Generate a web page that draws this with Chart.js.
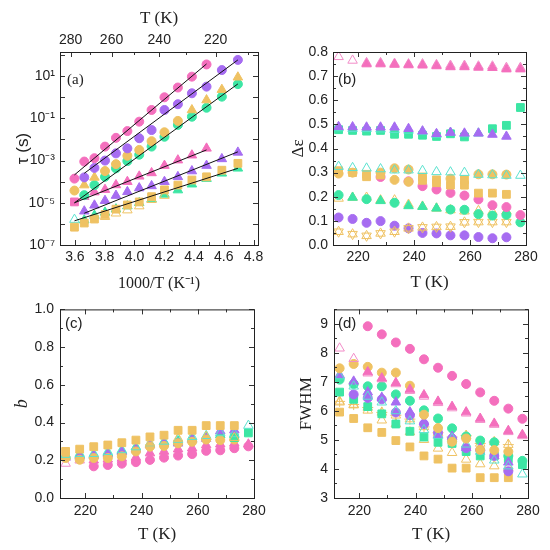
<!DOCTYPE html>
<html>
<head>
<meta charset="utf-8">
<script src="https://cdn.jsdelivr.net/npm/chart.js@4.4.1/dist/chart.umd.min.js"></script>
<style>
  body { margin: 0; background: #fff; }
  #fig { position: relative; width: 550px; height: 550px; background: #fff; }
  .panel { position: absolute; }
</style>
</head>
<body>
<div id="fig">
  <div class="panel" style="left:0;top:0;width:275px;height:295px"><canvas id="chartA"></canvas></div>
  <div class="panel" style="left:275px;top:0;width:275px;height:295px"><canvas id="chartB"></canvas></div>
  <div class="panel" style="left:0;top:295px;width:275px;height:255px"><canvas id="chartC"></canvas></div>
  <div class="panel" style="left:275px;top:295px;width:275px;height:255px"><canvas id="chartD"></canvas></div>
</div>
<script>
// Temperatures of the measurements (K)
const temps = [213, 218, 223, 228, 233, 238, 243, 248, 253, 258, 263, 268, 273, 278];

// Tick values
const invTicks = [3.6, 3.8, 4.0, 4.2, 4.4, 4.6, 4.8];
const topTempTicks = [280, 260, 240, 220];
const topTempMinor = [270, 250, 230, 210];
const tauTicks = [1e-7, 1e-5, 1e-3, 1e-1, 1e1];
const tempTicks = [220, 240, 260, 280];
const epsTicks = [0, 0.1, 0.2, 0.3, 0.4, 0.5, 0.6, 0.7, 0.8];
const bTicks = [0, 0.2, 0.4, 0.6, 0.8, 1.0];
const fwhmTicks = [3, 4, 5, 6, 7, 8, 9];

// (a) relaxation times tau (s)
const tauPinkCirc = [null, null, 36, 9.5, 2.9, 1.0, 0.25, 0.07, 0.025, 0.012, 4.6e-3, 1.3e-3, 9e-4, 1.4e-4];
const tauPurpleCirc = [59, 19.5, 3.2, 1.55, 0.47, 0.25, 0.028, 0.0115, 3.8e-3, 2.2e-3, 1e-3, 4.5e-4, 1.6e-4, null];
const tauOrangeCirc = [null, null, null, null, 0.076, 0.022, 8.3e-3, 3.2e-3, 1.7e-3, 6.8e-4, 3.2e-4, null, null, 3.8e-5];
const tauOrangeTri = [8.9, 2.3, 0.74, 0.25, null, null, null, null, null, null, null, 1.6e-4, 6.9e-5, null];
const tauGreenCirc = [4.2, 1.07, 0.32, 0.12, 0.049, 0.0135, 4.6e-3, 1.9e-3, 9.5e-4, 4.3e-4, 1.7e-4, 6.9e-5, 2.3e-5, null];
const tauPinkTri = [null, null, 3.8e-3, 1.8e-3, 1.05e-3, 5.8e-4, 2.6e-4, 1.8e-4, 1e-4, 7e-5, 4.2e-5, 3.2e-5, 1.95e-5, null];
const tauPinkSq = [null, null, null, null, null, null, null, null, null, null, null, null, null, 1.1e-5];
const tauPurpleTri = [2.45e-3, 1.2e-3, 5.8e-4, 3.2e-4, 1.7e-4, 1e-4, 6.3e-5, 5e-5, 3.3e-5, 2.2e-5, 1.26e-5, 7.6e-6, 4e-6, null];
const tauOrangeSq = [7.4e-4, 3.5e-4, 1.7e-4, 1.2e-4, 6.9e-5, 4.1e-5, 1.95e-5, 1.1e-5, 7.9e-6, 5e-6, 2.8e-6, 1.7e-6, 1.1e-6, 7e-7];
const tauGreenTri = [4.3e-4, 2.5e-4, 1.4e-4, 7.6e-5, 4e-5, 2.5e-5, 1.5e-5, 1e-5, 7e-6, 5e-6, 3.5e-6, 2.5e-6, 1.5e-6, null];
const tauCyanOpen = [null, null, null, null, null, null, null, null, null, null, null, null, null, 1.6e-6];
const tauOrangeOpen = [null, null, null, null, null, 2.2e-5, 1.4e-5, 7e-6, 4.5e-6, 3.2e-6, 2.2e-6, null, null, null];
// Arrhenius fits: end temperatures and end values
const fitTemps = [[278, 223], [273, 213], [278, 213], [278, 223], [273, 213], [278, 213]];
const fitTaus = [[2.1e-4, 38], [2.5e-4, 59], [1.0e-5, 4.3], [1.0e-5, 3.2e-3], [3.2e-6, 2.6e-3], [1.4e-6, 4.3e-4]];

// (b) relaxation strength
const epsPinkOpen = [0.78, 0.765, 0.755, 0.755, 0.752, 0.75, 0.75, 0.747, 0.744, 0.744, 0.741, 0.741, 0.735, 0.735];
const epsPinkTri = [null, null, 0.75, 0.75, 0.748, 0.746, 0.745, 0.742, 0.738, 0.738, 0.736, 0.735, 0.729, 0.729];
const epsPurpleTri = [0.49, 0.489, 0.488, 0.488, 0.488, 0.482, 0.472, 0.461, 0.466, 0.463, 0.463, 0.458, 0.45, null];
const epsCyanOpenHi = [0.485, 0.482, 0.482, 0.48, 0.478, 0.475, 0.47, 0.458, 0.466, 0.46, 0.463, null, null, null];
const epsGreenSq = [0.478, 0.475, 0.472, 0.475, 0.459, 0.459, 0.455, 0.45, 0.461, 0.448, null, 0.482, 0.496, 0.57];
const epsCyanOpenLo = [0.325, 0.32, 0.318, 0.315, 0.31, 0.31, 0.308, 0.303, 0.302, 0.3, 0.292, 0.29, 0.288, 0.288];
const orangeCircTempsB = [213, 218, 228, 233, 233, 238, 238, 253, 263, 268, 273];
const epsOrangeCirc = [0.296, 0.3, 0.3, 0.318, 0.27, 0.313, 0.262, 0.275, 0.293, 0.293, 0.292];
const orangeSqTempsB = [213, 218, 223, 223, 228, 243, 243, 248, 248, 253, 258, 258, 263, 268, 273];
const epsOrangeSq = [0.308, 0.3, 0.293, 0.283, 0.29, 0.282, 0.268, 0.27, 0.258, 0.248, 0.27, 0.248, 0.215, 0.215, 0.21];
const epsPinkCirc = [null, null, null, 0.282, null, 0.264, 0.244, 0.23, 0.216, 0.205, 0.189, 0.165, 0.157, 0.124];
const epsGreenCirc = [0.207, null, 0.19, null, 0.175, null, null, null, 0.147, 0.146, 0.128, 0.122, 0.125, 0.094];
const epsGreenTri = [null, 0.197, null, 0.183, null, 0.162, 0.159, 0.152, null, null, null, null, null, null];
const epsOrangeOpen = [0.193, 0.197, 0.197, 0.186, 0.186, 0.168, 0.16, 0.152, 0.145, 0.14, 0.142, 0.138, 0.14, null];
const epsOrangeStar = [0.055, 0.045, 0.038, 0.048, 0.055, 0.069, 0.073, 0.075, 0.076, 0.094, 0.095, 0.095, 0.095, null];
const epsPurpleCirc = [0.114, 0.108, 0.092, 0.099, 0.08, 0.069, 0.05, 0.048, 0.04, 0.04, 0.033, 0.028, 0.032, null];

// (c) stretching parameter b
const bOrangeSq = [0.247, 0.259, 0.272, 0.281, 0.293, 0.307, 0.324, 0.333, 0.359, 0.359, 0.384, 0.384, 0.384, null];
const bPinkCirc = [null, null, 0.168, 0.175, 0.182, 0.19, 0.202, 0.214, 0.225, 0.233, 0.25, 0.253, 0.264, 0.274];
const bPinkTri = [null, null, 0.2, 0.205, 0.21, 0.215, 0.238, 0.247, 0.259, 0.264, 0.281, 0.285, 0.29, 0.285];
const bPinkOpen = [0.183, 0.2, null, null, null, null, null, null, null, null, null, null, null, null];
const bGreenTri = [0.222, 0.229, 0.229, 0.238, 0.25, 0.269, 0.285, 0.298, 0.3, 0.315, 0.325, 0.335, 0.335, null];
const bPurpleTri = [0.215, 0.222, 0.225, 0.232, 0.245, 0.258, 0.281, 0.29, 0.29, 0.31, 0.315, 0.355, 0.36, null];
const bCyanOpen = [0.23, 0.235, 0.235, 0.245, 0.255, 0.27, 0.29, 0.3, 0.31, 0.325, 0.33, 0.345, 0.34, 0.384];
const bOrangeCirc = [0.212, 0.203, 0.212, 0.212, 0.221, 0.247, 0.272, 0.276, 0.29, 0.298, 0.31, 0.307, 0.31, null];
const bOrangeOpen = [null, null, null, null, null, null, 0.29, null, 0.316, null, 0.325, null, 0.32, null];
const bGreenSq = [null, null, null, null, null, null, null, null, null, null, null, null, 0.32, 0.345];

// (d) FWHM
const fwPinkCirc = [null, null, 8.92, 8.64, 8.36, 8.14, 7.78, 7.49, 7.21, 6.93, 6.64, 6.35, 6.08, 5.73];
const fwPinkOpen = [8.16, 7.8, 7.3, 7.1, 6.93, 6.7, 6.5, 6.28, 6.1, 5.92, 5.7, 5.53, 5.28, 5.14];
const fwPinkTri = [null, null, 7.34, 7.13, 6.97, 6.74, 6.55, 6.33, 6.15, 5.96, 5.74, 5.57, 5.32, 5.18];
const fwOrangeCirc = [7.47, 7.62, 7.52, 7.32, 7.32, 6.87, 5.87, 5.41, 4.94, 5.05, 4.66, 4.65, 4.6, null];
const fwPurpleTri = [7.24, 7.02, 6.65, 6.46, 6.3, 5.96, 5.62, 5.18, 5.12, 4.73, 4.73, 4.45, 4.23, null];
const fwPurpleCirc = [null, 6.57, 6.45, 6.4, 5.95, 5.85, 5.55, 5.25, 5.05, 4.72, 4.65, 4.45, 3.92, null];
const fwGreenCirc = [7.08, 6.93, 6.85, 6.85, 6.57, 6.35, 6.02, 5.74, 5.4, 5.12, 4.98, 4.92, 4.45, 4.28];
const fwGreenSq = [6.65, 6.4, 6.15, 5.9, 5.55, 5.3, 5.1, 4.92, 4.88, 4.6, 4.45, 4.45, 4.35, 4.15];
const fwCyanOpen = [7.2, 6.85, 6.5, 6.3, 6.0, 5.65, 5.35, 5.15, 5.05, 4.85, 4.6, 4.3, 4.1, 3.82];
const fwOrangeOpen = [6.3, 6.2, 6.02, 5.68, 5.55, 5.27, 5.01, 4.71, 4.56, 4.33, 4.17, 4.1, 4.05, null];
const fwOrangeCross = [6.33, 6.22, 6.12, 5.95, 5.85, 5.72, 5.45, 5.25, 5.1, 5.15, 4.88, 4.93, 4.84, null];
const fwOrangeSq = [5.96, 5.74, 5.42, 5.26, 4.98, 4.76, 4.45, 4.34, 4.03, 4.03, 3.7, 3.7, 3.7, null];

const PINK = '#f46fbd';
const PINK_LIGHT = '#f28cc8';
const PURPLE = '#a66cf1';
const ORANGE = '#efc263';
const GREEN = '#3ce6a4';
const CYAN = '#5ae2cf';

const SANS = "'Liberation Sans', Arial, sans-serif";
const SERIF = "'Liberation Serif', 'Times New Roman', serif";

const supDigits = { '-': '\u207B', '0': '\u2070', '1': '\u00B9', '2': '\u00B2', '3': '\u00B3',
    '4': '\u2074', '5': '\u2075', '6': '\u2076', '7': '\u2077', '8': '\u2078', '9': '\u2079' };

// Build a scatter dataset from x values and y values (nulls skipped)
function series(xs, ys, style) {
    const data = [];
    xs.forEach((x, i) => {
        if (ys[i] !== null && ys[i] !== undefined) data.push({ x: x, y: ys[i] });
    });
    return Object.assign({ data: data, showLine: false }, style);
}

// Marker style
function mk(shape, color, open, rot) {
    const r = shape === 'circle' ? 4.5 : 5.5;
    return {
        pointStyle: shape,
        pointRadius: r,
        pointHoverRadius: r,
        pointRotation: rot || 0,
        pointBackgroundColor: open ? 'rgba(0,0,0,0)' : color,
        pointBorderColor: color,
        pointBorderWidth: 1
    };
}

// Minor ticks halfway between major ones
function midTicks(major, min, max) {
    const step = major[1] - major[0];
    const res = [];
    for (let v = major[0] - step / 2; v <= max + 1e-9; v += step) {
        if (v >= min - 1e-9) res.push(v);
    }
    return res;
}

// Box, inward ticks and the panel letter
const framePlugin = {
    id: 'frame',
    afterDatasetsDraw(chart, args, o) {
        const { ctx, chartArea: a } = chart;
        const sx = chart.scales.x;
        const sy = chart.scales.y;
        ctx.save();
        ctx.strokeStyle = '#333';
        ctx.lineWidth = 1;
        ctx.beginPath();
        const xTick = (v, len, bottom, top) => {
            const px = Math.round(sx.getPixelForValue(v)) + 0.5;
            if (bottom) { ctx.moveTo(px, a.bottom); ctx.lineTo(px, a.bottom - len); }
            if (top) { ctx.moveTo(px, a.top); ctx.lineTo(px, a.top + len); }
        };
        const yTick = (v, len) => {
            const py = Math.round(sy.getPixelForValue(v)) + 0.5;
            ctx.moveTo(a.left, py); ctx.lineTo(a.left + len, py);
            ctx.moveTo(a.right, py); ctx.lineTo(a.right - len, py);
        };
        o.xMajor.forEach(v => xTick(v, 5, true, !o.topMajor));
        o.xMinor.forEach(v => xTick(v, 3, true, !o.topMajor));
        if (o.topMajor) {
            o.topMajor.forEach(v => xTick(v, 5, false, true));
            o.topMinor.forEach(v => xTick(v, 3, false, true));
        }
        o.yMajor.forEach(v => yTick(v, 5));
        o.yMinor.forEach(v => yTick(v, 3));
        ctx.stroke();
        ctx.strokeStyle = '#222';
        ctx.strokeRect(a.left + 0.5, a.top + 0.5, a.right - a.left, a.bottom - a.top);
        ctx.fillStyle = '#222';
        ctx.font = o.labelFont;
        ctx.textBaseline = 'middle';
        ctx.fillText(o.label, a.left + o.labelDx, a.top + o.labelDy);
        ctx.restore();
    }
};

function axis(opts) {
    const cfg = {
        type: opts.type || 'linear',
        position: opts.position,
        min: opts.min,
        max: opts.max,
        grid: { display: false, drawTicks: false },
        border: { display: false },
        afterBuildTicks: (s) => { s.ticks = opts.ticks.map(v => ({ value: v })); },
        ticks: {
            autoSkip: false,
            maxRotation: 0,
            padding: opts.tickPad,
            color: '#222',
            font: { family: SANS, size: 14 },
            callback: opts.format
        },
        title: {
            display: true,
            text: opts.title,
            color: '#222',
            font: opts.titleFont,
            padding: opts.titlePad
        }
    };
    if (opts.size !== undefined) {
        if (opts.position === 'left') cfg.afterFit = (s) => { s.width = opts.size; };
        else cfg.afterFit = (s) => { s.height = opts.size; };
    }
    return cfg;
}

function panel(id, datasets, padding, scales, frame) {
    return new Chart(document.getElementById(id), {
        type: 'scatter',
        data: { datasets: datasets },
        options: {
            responsive: true,
            maintainAspectRatio: false,
            animation: false,
            layout: { padding: padding },
            plugins: { legend: { display: false }, tooltip: { enabled: false }, frame: frame },
            scales: scales
        },
        plugins: [framePlugin]
    });
}

const oneDecimal = (v) => Number(v).toFixed(1);
const plain = (v) => String(Math.round(v));
const invT = temps.map(t => 1000 / t);
const titleSerif = (size, style) => ({ family: SERIF, size: size, style: style || 'normal' });

// ---------- (a) ----------
const fitSets = fitTemps.map((ts, i) => ({
    data: ts.map((t, j) => ({ x: 1000 / t, y: fitTaus[i][j] })),
    showLine: true,
    borderColor: '#111',
    borderWidth: 1,
    pointRadius: 0,
    pointHoverRadius: 0
}));
panel('chartA', fitSets.concat([
    series(invT, tauPinkCirc, mk('circle', PINK)),
    series(invT, tauPurpleCirc, mk('circle', PURPLE)),
    series(invT, tauOrangeTri, mk('triangle', ORANGE)),
    series(invT, tauOrangeCirc, mk('circle', ORANGE)),
    series(invT, tauGreenCirc, mk('circle', GREEN)),
    series(invT, tauPinkSq, mk('rect', PINK)),
    series(invT, tauPinkTri, mk('triangle', PINK)),
    series(invT, tauPurpleTri, mk('triangle', PURPLE)),
    series(invT, tauOrangeOpen, mk('triangle', ORANGE, true)),
    series(invT, tauOrangeSq, mk('rect', ORANGE)),
    series(invT, tauGreenTri, mk('triangle', GREEN)),
    series(invT, tauCyanOpen, mk('triangle', CYAN, true))
]), { left: 0, right: 17, top: 0, bottom: 0 }, {
    x: axis({ position: 'bottom', min: 3.5, max: 4.83, ticks: invTicks, format: oneDecimal,
        title: '1000/T (K\u207B\u00B9)', titleFont: titleSerif(16), titlePad: { bottom: 2 },
        size: 50, tickPad: 4 }),
    x2: axis({ position: 'top', min: 3.5, max: 4.83, ticks: topTempTicks.map(t => 1000 / t),
        format: (v) => Math.round(1000 / v), title: 'T (K)', titleFont: titleSerif(17),
        titlePad: { top: 8 }, size: 52, tickPad: 3 }),
    y: axis({ type: 'logarithmic', position: 'left', min: 1e-7, max: 140, ticks: tauTicks,
        format: (v) => '10' + String(Math.round(Math.log10(v))).split('').map(c => supDigits[c]).join(''),
        title: '\u03C4 (s)', titleFont: { family: SANS, size: 17 }, titlePad: { top: 13 },
        size: 60, tickPad: 5 })
}, {
    label: '(a)', labelFont: '15px ' + SERIF, labelDx: 7, labelDy: 28,
    xMajor: invTicks, xMinor: midTicks(invTicks, 3.5, 4.83),
    topMajor: topTempTicks.map(t => 1000 / t), topMinor: topTempMinor.map(t => 1000 / t),
    yMajor: [1e-7, 1e-6, 1e-5, 1e-4, 1e-3, 1e-2, 1e-1, 1, 10, 100], yMinor: []
});

// ---------- (b) ----------
panel('chartB', [
    series(temps, epsPinkTri, mk('triangle', PINK)),
    series(temps, epsPinkOpen, mk('triangle', PINK_LIGHT, true)),
    series(temps, epsPurpleTri, mk('triangle', PURPLE)),
    series(temps, epsCyanOpenHi, mk('triangle', CYAN, true)),
    series(temps, epsGreenSq, mk('rect', GREEN)),
    series(temps, epsCyanOpenLo, mk('triangle', CYAN, true)),
    series(orangeCircTempsB, epsOrangeCirc, mk('circle', ORANGE)),
    series(orangeSqTempsB, epsOrangeSq, mk('rect', ORANGE)),
    series(temps, epsPinkCirc, mk('circle', PINK)),
    series(temps, epsGreenTri, mk('triangle', GREEN)),
    series(temps, epsGreenCirc, mk('circle', GREEN)),
    series(temps, epsOrangeOpen, mk('triangle', ORANGE, true)),
    series(temps, epsOrangeStar, mk('triangle', ORANGE, true)),
    series(temps, epsOrangeStar, mk('triangle', ORANGE, true, 180)),
    series(temps, epsPurpleCirc, mk('circle', PURPLE))
], { left: 0, right: 24, top: 52, bottom: 0 }, {
    x: axis({ position: 'bottom', min: 211, max: 280, ticks: tempTicks, format: plain,
        title: 'T (K)', titleFont: titleSerif(17), titlePad: { bottom: 2 }, size: 50, tickPad: 4 }),
    y: axis({ position: 'left', min: 0, max: 0.8, ticks: epsTicks, format: oneDecimal,
        title: '\u0394\u03B5', titleFont: titleSerif(17), titlePad: { top: 13 }, size: 58, tickPad: 5 })
}, {
    label: '(b)', labelFont: '15px ' + SANS, labelDx: 5, labelDy: 28,
    xMajor: tempTicks, xMinor: midTicks(tempTicks, 211, 280),
    yMajor: epsTicks, yMinor: midTicks(epsTicks, 0, 0.8)
});

// ---------- (c) ----------
panel('chartC', [
    series(temps, bOrangeSq, mk('rect', ORANGE)),
    series(temps, bOrangeOpen, mk('triangle', ORANGE, true)),
    series(temps, bCyanOpen, mk('triangle', CYAN, true)),
    series(temps, bGreenSq, mk('rect', GREEN)),
    series(temps, bOrangeCirc, mk('circle', ORANGE)),
    series(temps, bPurpleTri, mk('triangle', PURPLE)),
    series(temps, bGreenTri, mk('triangle', GREEN)),
    series(temps, bPinkTri, mk('triangle', PINK)),
    series(temps, bPinkOpen, mk('triangle', PINK_LIGHT, true)),
    series(temps, bPinkCirc, mk('circle', PINK))
], { left: 0, right: 21, top: 9, bottom: 0 }, {
    x: axis({ position: 'bottom', min: 211, max: 280, ticks: tempTicks, format: plain,
        title: 'T (K)', titleFont: titleSerif(17), titlePad: { bottom: 5 }, size: 52, tickPad: 5 }),
    y: axis({ position: 'left', min: 0, max: 1.0, ticks: bTicks, format: oneDecimal,
        title: 'b', titleFont: titleSerif(18, 'italic'), titlePad: { top: 11 }, size: 60, tickPad: 6 })
}, {
    label: '(c)', labelFont: '15px ' + SANS, labelDx: 5, labelDy: 14,
    xMajor: tempTicks, xMinor: midTicks(tempTicks, 211, 280),
    yMajor: bTicks, yMinor: midTicks(bTicks, 0, 1.0)
});

// ---------- (d) ----------
panel('chartD', [
    series(temps, fwPinkCirc, mk('circle', PINK)),
    series(temps, fwPinkTri, mk('triangle', PINK)),
    series(temps, fwPinkOpen, mk('triangle', PINK_LIGHT, true)),
    series(temps, fwOrangeCirc, mk('circle', ORANGE)),
    series(temps, fwCyanOpen, mk('triangle', CYAN, true)),
    series(temps, fwPurpleTri, mk('triangle', PURPLE)),
    series(temps, fwPurpleCirc, mk('circle', PURPLE)),
    series(temps, fwGreenCirc, mk('circle', GREEN)),
    series(temps, fwGreenSq, mk('rect', GREEN)),
    series(temps, fwOrangeCross, mk('cross', ORANGE, true)),
    series(temps, fwOrangeCross, mk('triangle', ORANGE, true)),
    series(temps, fwOrangeOpen, mk('triangle', ORANGE, true)),
    series(temps, fwOrangeSq, mk('rect', ORANGE))
], { left: 0, right: 22, top: 9, bottom: 0 }, {
    x: axis({ position: 'bottom', min: 211, max: 280, ticks: tempTicks, format: plain,
        title: 'T (K)', titleFont: titleSerif(17), titlePad: { bottom: 5 }, size: 52, tickPad: 5 }),
    y: axis({ position: 'left', min: 3, max: 9.5, ticks: fwhmTicks, format: plain,
        title: 'FWHM', titleFont: titleSerif(17), titlePad: { top: 21 }, size: 59, tickPad: 6 })
}, {
    label: '(d)', labelFont: '15px ' + SANS, labelDx: 4, labelDy: 14,
    xMajor: tempTicks, xMinor: midTicks(tempTicks, 211, 280),
    yMajor: fwhmTicks, yMinor: midTicks(fwhmTicks, 3, 9.5)
});
</script>
</body>
</html>
